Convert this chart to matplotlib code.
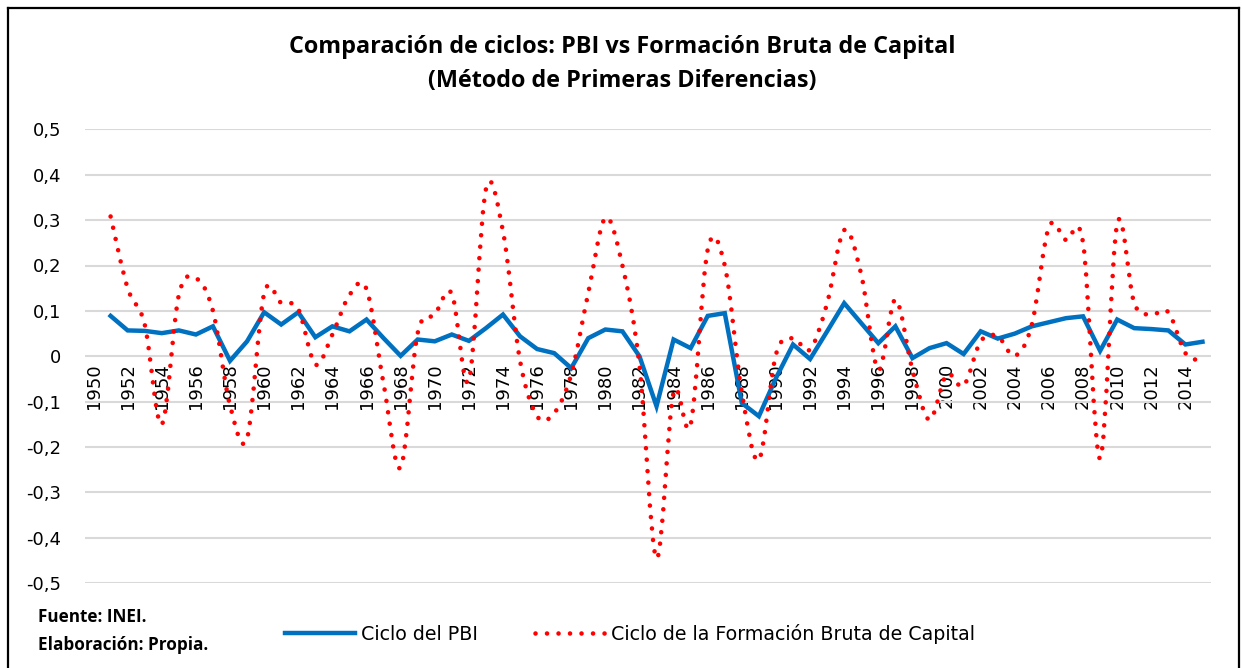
import numpy as np
import matplotlib
matplotlib.use("Agg")
import matplotlib.pyplot as plt
from matplotlib.path import Path
from matplotlib.patches import PathPatch
from matplotlib.lines import Line2D
from matplotlib.ticker import FuncFormatter, MultipleLocator

# categorias (anios) 1950-2015, las series empiezan en 1951
years = list(range(1950, 2016))
ser_years = list(range(1951, 2016))

ciclo_pbi = [0.089, 0.057, 0.056, 0.051, 0.057, 0.048, 0.066, -0.010, 0.033, 0.097,
             0.070, 0.097, 0.042, 0.066, 0.055, 0.081, 0.040, 0.001, 0.037, 0.033,
             0.048, 0.034, 0.062, 0.092, 0.044, 0.016, 0.007, -0.026, 0.040, 0.059,
             0.055, 0.000, -0.110, 0.037, 0.018, 0.089, 0.095, -0.103, -0.132, -0.048,
             0.026, -0.006, 0.055, 0.117, 0.073, 0.029, 0.066, -0.004, 0.018, 0.029,
             0.005, 0.055, 0.039, 0.050, 0.066, 0.075, 0.084, 0.088, 0.012, 0.081,
             0.062, 0.060, 0.057, 0.026, 0.032]

ciclo_fbk = [0.308, 0.150, 0.070, -0.150, 0.135, 0.172, 0.100, -0.108, -0.180, 0.138,
             0.118, 0.104, -0.018, 0.048, 0.135, 0.148, -0.060, -0.245, 0.051, 0.092,
             0.138, -0.053, 0.368, 0.275, -0.010, -0.132, -0.125, -0.040, 0.140, 0.305,
             0.200, -0.020, -0.445, -0.080, -0.150, 0.235, 0.200, -0.080, -0.228, 0.004,
             0.040, 0.015, 0.117, 0.278, 0.180, -0.030, 0.125, -0.030, -0.140, -0.040,
             -0.065, 0.033, 0.044, 0.001, 0.070, 0.285, 0.256, 0.250, -0.225, 0.292,
             0.117, 0.092, 0.097, 0.007, -0.010]

xtick_years = list(range(1950, 2016, 2))

BLUE = "#0070C0"
RED = "#FF0000"
GRID = "#D9D9D9"


def smooth_path(xs, ys):
    # curva suavizada tipo Excel (Catmull-Rom -> Bezier cubica)
    P = np.column_stack([xs, ys]).astype(float)
    n = len(P)
    verts = [P[0]]
    codes = [Path.MOVETO]
    for i in range(n - 1):
        p0 = P[i - 1] if i > 0 else P[i]
        p3 = P[i + 2] if i + 2 < n else P[i + 1]
        c1 = P[i] + (P[i + 1] - p0) / 6.0
        c2 = P[i + 1] - (p3 - P[i]) / 6.0
        verts += [c1, c2, P[i + 1]]
        codes += [Path.CURVE4] * 3
    return Path(verts, codes)


W, H = 1242, 668
fig = plt.figure(figsize=(W / 100, H / 100), dpi=100)
ax = fig.add_axes([85 / W, 1 - 583.3 / H, (1211 - 85) / W, (583.3 - 129.3) / H])

ax.set_xlim(years[0] - 0.5, years[-1] + 0.5)
ax.set_ylim(-0.5, 0.5)

ax.yaxis.set_major_locator(MultipleLocator(0.1))
ax.yaxis.set_major_formatter(FuncFormatter(
    lambda v, p: "0" if abs(v) < 1e-9 else f"{v:.1f}".replace(".", ",")))
ax.grid(axis="y", color=GRID, linewidth=1.5)
ax.set_axisbelow(True)

for s in ["top", "right", "left"]:
    ax.spines[s].set_visible(False)
ax.spines["bottom"].set_position(("data", 0))
ax.spines["bottom"].set_visible(False)

ax.set_xticks(xtick_years)
ax.set_xticklabels([str(y) for y in xtick_years], rotation=90, va="top", ha="center")
ax.tick_params(axis="x", length=0, pad=5, labelsize=13)
ax.tick_params(axis="y", length=0, pad=17, labelsize=13)

# serie PBI
ax.plot(ser_years, ciclo_pbi, color=BLUE, linewidth=3.2, solid_joinstyle="miter", zorder=3)

# serie FBK (linea punteada suavizada)
dots = (0, (0.01, 2.5))
patch = PathPatch(smooth_path(ser_years, ciclo_fbk), fill=False, edgecolor=RED,
                  linewidth=3.3, linestyle=dots, capstyle="round", zorder=4)
ax.add_patch(patch)

fig.text(622 / W, 1 - 47 / H, "Comparación de ciclos: PBI vs Formación Bruta de Capital",
         ha="center", va="center", fontsize=16.8, fontweight="bold", family="Open Sans")
fig.text(622 / W, 1 - 81 / H, "(Método de Primeras Diferencias)",
         ha="center", va="center", fontsize=16.8, fontweight="bold", family="Open Sans")

fig.text(38 / W, 1 - 617 / H, "Fuente: INEI.", ha="left", va="center",
         fontsize=12.3, fontweight="bold", family="Open Sans")
fig.text(38 / W, 1 - 645 / H, "Elaboración: Propia.", ha="left", va="center",
         fontsize=12.3, fontweight="bold", family="Open Sans")

handles = [Line2D([], [], color=BLUE, linewidth=3.2),
           Line2D([], [], color=RED, linewidth=3.3, linestyle=dots, dash_capstyle="round")]
fig.legend(handles, ["Ciclo del PBI", "Ciclo de la Formación Bruta de Capital"],
           loc="center", bbox_to_anchor=(630 / W, 1 - 634 / H), ncol=2, frameon=False,
           fontsize=13.7, handlelength=3.7, handletextpad=0.3, columnspacing=3.0)

# borde del area del grafico
for xs, ys in [((7.5, 7.5), (0, 660)), ((7.5, 1239), (660, 660)), ((1239, 1239), (660, 0))]:
    fig.add_artist(Line2D([x / W for x in xs], [y / H for y in ys], color="black",
                          linewidth=1.6, transform=fig.transFigure))

fig.savefig("out.png", dpi=100)
